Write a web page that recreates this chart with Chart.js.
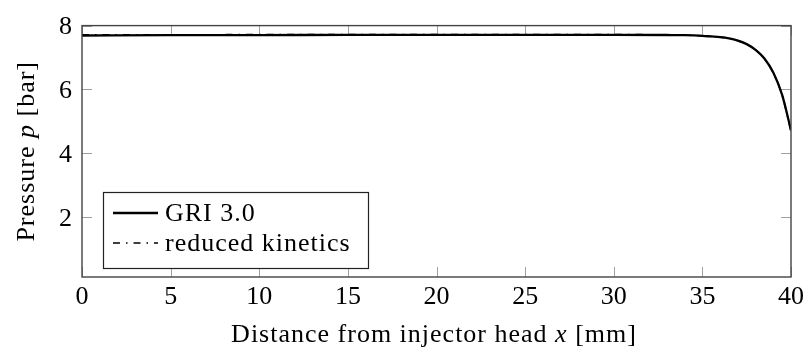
<!DOCTYPE html>
<html>
<head>
<meta charset="utf-8">
<script src="https://cdn.jsdelivr.net/npm/chart.js@4/dist/chart.umd.min.js"></script>
<style>
  html, body { margin: 0; padding: 0; background: #fff; }
  #wrap { width: 809px; height: 351px; }
</style>
</head>
<body>
<div id="wrap"><canvas id="c" width="809" height="351"></canvas></div>
<script>
// Axial position along the chamber [mm]
const distance = [0, 5, 10, 15, 20, 25, 30, 33, 34, 35, 35.5, 36, 36.5, 37, 37.5, 38, 38.5, 39, 39.5, 40];
// Pressure [bar] for the detailed mechanism
const pressureGRI = [7.69, 7.70, 7.70, 7.71, 7.71, 7.71, 7.71, 7.705, 7.70, 7.68, 7.66, 7.64, 7.60, 7.53, 7.42, 7.24, 6.97, 6.53, 5.83, 4.72];
// Pressure [bar] for the reduced mechanism
const pressureReduced = [7.71, 7.71, 7.72, 7.72, 7.72, 7.72, 7.72, 7.71, 7.70, 7.68, 7.66, 7.64, 7.60, 7.53, 7.42, 7.24, 6.96, 6.52, 5.82, 4.70];
const seriesNames = ['GRI 3.0', 'reduced kinetics'];
const xTicks = [0, 5, 10, 15, 20, 25, 30, 35, 40];
const yTicks = [2, 4, 6, 8];

const SERIF = '"Liberation Serif", "DejaVu Serif", serif';
const TEXT_SIZE = 26;
const TICK_FONT = { family: SERIF, size: TEXT_SIZE };

const toPoints = (xs, ys) => xs.map((x, i) => ({ x: x, y: ys[i] }));

// Box frame, inward tick marks on all four sides, axis titles and legend
const framePlugin = {
  id: 'frame',
  beforeDatasetsDraw(chart) {
    const { ctx, chartArea: a, scales } = chart;
    ctx.save();
    ctx.strokeStyle = '#a0a0a0';
    ctx.lineWidth = 1;
    const len = 10;
    scales.x.ticks.forEach(t => {
      const px = Math.round(scales.x.getPixelForValue(t.value)) + 0.5;
      ctx.beginPath();
      ctx.moveTo(px, a.bottom); ctx.lineTo(px, a.bottom - len);
      ctx.moveTo(px, a.top); ctx.lineTo(px, a.top + len);
      ctx.stroke();
    });
    scales.y.ticks.forEach(t => {
      const py = Math.round(scales.y.getPixelForValue(t.value)) + 0.5;
      ctx.beginPath();
      ctx.moveTo(a.left, py); ctx.lineTo(a.left + len, py);
      ctx.moveTo(a.right, py); ctx.lineTo(a.right - len, py);
      ctx.stroke();
    });
    ctx.restore();
  },
  afterDraw(chart) {
    const { ctx, chartArea: a } = chart;
    ctx.save();
    // frame
    ctx.strokeStyle = '#444';
    ctx.lineWidth = 1.4;
    ctx.strokeRect(a.left, a.top, a.right - a.left, a.bottom - a.top);

    ctx.letterSpacing = '1px';
    // text helper for mixed upright / italic runs, centred on the origin
    const drawRuns = (runs, size) => {
      let total = 0;
      runs.forEach(r => {
        ctx.font = (r.it ? 'italic ' : '') + size + 'px ' + SERIF;
        r.w = ctx.measureText(r.t).width;
        total += r.w;
      });
      let x = -total / 2;
      runs.forEach(r => {
        ctx.font = (r.it ? 'italic ' : '') + size + 'px ' + SERIF;
        ctx.fillText(r.t, x, 0);
        x += r.w;
      });
    };
    ctx.fillStyle = '#000';
    ctx.textBaseline = 'alphabetic';
    ctx.textAlign = 'left';

    // x axis title
    ctx.save();
    ctx.translate(434, 342);
    drawRuns([{ t: 'Distance from injector head ' }, { t: 'x', it: true }, { t: ' [mm]' }], TEXT_SIZE);
    ctx.restore();

    // y axis title
    ctx.save();
    ctx.translate(34, (a.top + a.bottom) / 2);
    ctx.rotate(-Math.PI / 2);
    drawRuns([{ t: 'Pressure ' }, { t: 'p', it: true }, { t: ' [bar]' }], TEXT_SIZE);
    ctx.restore();

    // legend
    const lx = 103, ly = 192, lw = 265, lh = 76;
    ctx.fillStyle = '#fff';
    ctx.fillRect(lx, ly, lw, lh);
    ctx.strokeStyle = '#222';
    ctx.lineWidth = 1.2;
    ctx.strokeRect(lx + 0.5, ly + 0.5, lw, lh);
    const rows = [213, 243];
    chart.data.datasets.forEach((ds, i) => {
      const y = rows[i];
      ctx.strokeStyle = ds.borderColor;
      ctx.lineWidth = ds.borderWidth;
      ctx.setLineDash(ds.borderDash || []);
      ctx.beginPath();
      ctx.moveTo(113, y); ctx.lineTo(158, y);
      ctx.stroke();
      ctx.setLineDash([]);
      ctx.fillStyle = '#000';
      ctx.font = TEXT_SIZE + 'px ' + SERIF;
      ctx.textBaseline = 'middle';
      ctx.fillText(ds.label, 165, y + 1);
    });
    ctx.restore();
  }
};

new Chart(document.getElementById('c'), {
  type: 'line',
  data: {
    datasets: [
      {
        label: seriesNames[0],
        data: toPoints(distance, pressureGRI),
        borderColor: '#000',
        borderWidth: 2.3,
        pointRadius: 0,
        cubicInterpolationMode: 'monotone',
        fill: false
      },
      {
        label: seriesNames[1],
        data: toPoints(distance, pressureReduced),
        borderColor: '#000',
        borderWidth: 1.6,
        borderDash: [7, 6, 1.5, 6],
        pointRadius: 0,
        cubicInterpolationMode: 'monotone',
        fill: false
      }
    ]
  },
  options: {
    responsive: false,
    animation: false,
    devicePixelRatio: 1,
    layout: { padding: { top: 19, right: 15, left: 0, bottom: 0 } },
    plugins: { legend: { display: false }, tooltip: { enabled: false } },
    scales: {
      x: {
        type: 'linear',
        min: 0,
        max: 40,
        afterBuildTicks: s => { s.ticks = xTicks.map(v => ({ value: v })); },
        afterFit: s => { s.height = 74; },
        grid: { display: false, drawTicks: false },
        border: { display: false },
        ticks: { font: TICK_FONT, color: '#000', padding: 5, maxRotation: 0, autoSkip: false }
      },
      y: {
        type: 'linear',
        min: 0.13,
        max: 8,
        afterBuildTicks: s => { s.ticks = yTicks.map(v => ({ value: v })); },
        afterFit: s => { s.width = 82; },
        grid: { display: false, drawTicks: false },
        border: { display: false },
        ticks: { font: TICK_FONT, color: '#000', padding: 10, labelOffset: 2, autoSkip: false }
      }
    }
  },
  plugins: [framePlugin]
});
</script>
</body>
</html>
